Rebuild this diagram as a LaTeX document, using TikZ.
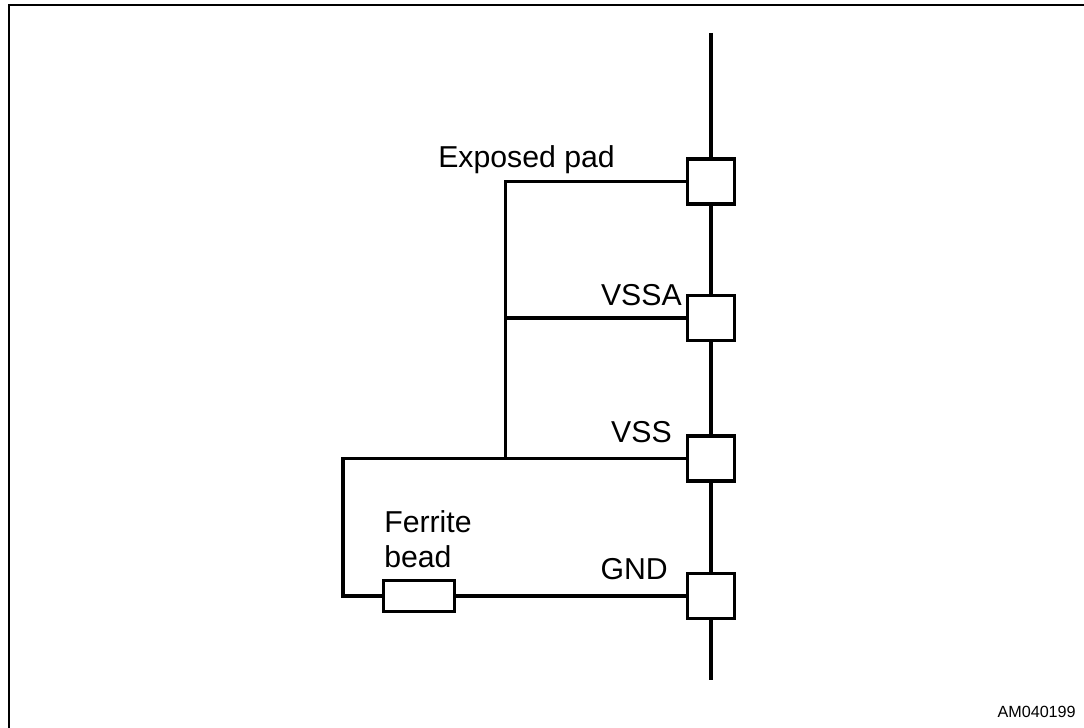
\documentclass[tikz,border=0pt]{standalone}
\usepackage{fontspec}
\setmainfont{Liberation Sans}
\usepackage{tikz}

\tikzset{
  pad/.style={draw, line width=2.3pt, fill=white, minimum width=1.16cm, minimum height=1.13cm, inner sep=0pt},
  bead/.style={draw, line width=2.3pt, fill=white, minimum width=1.78cm, minimum height=0.78cm, inner sep=0pt},
  wire/.style={line width=2.3pt},
  lbl/.style={font=\fontsize{21.5}{26}\selectfont, inner sep=0pt}
}

\begin{document}
\begin{tikzpicture}[x=0.025cm, y=-0.025cm]

\useasboundingbox (0,0) rectangle (1084,728);

% Outer frame
\draw[line width=1.5pt] (9,740) -- (9,5) -- (1100,5);

% Free ends of the vertical line
\coordinate (top) at (711,33);
\coordinate (bottom) at (711,680);

% Pads on the vertical line
\node[pad] (padE) at (711,181.5) {};
\node[pad] (padA) at (711,318) {};
\node[pad] (padS) at (711,458.5) {};
\node[pad] (padG) at (711,596) {};

% Ferrite bead
\node[bead] (ferrite) at (419,596) {};

% Junctions
\coordinate (jE) at (505.5,181.5);
\coordinate (jA) at (505.5,318);
\coordinate (jS) at (505.5,458.5);
\coordinate (jL) at (343,458.5);
\coordinate (jB) at (343,596);

% Vertical line through the pads
\draw[wire] (top) -- (padE);
\draw[wire] (padE) -- (padA);
\draw[wire] (padA) -- (padS);
\draw[wire] (padS) -- (padG);
\draw[wire] (padG) -- (bottom);

% Ground connections
\draw[wire] (padE) -- (jE);
\draw[wire] (padA) -- (jA);
\draw[wire] (padS) -- (jS);
\draw[wire, line cap=rect] (jE) -- (jS);
\draw[wire, line join=miter] (jS) -- (jL) -- (jB) -- (ferrite);
\draw[wire] (ferrite) -- (padG);

% Labels
\node[lbl, anchor=base west] (lblE) at (438,168) {Exposed pad};
\node[lbl, anchor=base east] (lblA) at (682,305) {VSSA};
\node[lbl, anchor=base east] (lblS) at (672,442) {VSS};
\node[lbl, anchor=base east] (lblG) at (668,579) {GND};
\node[lbl, anchor=base west] (lblF) at (384,532) {Ferrite};
\node[lbl, anchor=base west] (lblB) at (384,567) {bead};
\node[anchor=base east, font=\fontsize{11.5}{14}\selectfont, inner sep=0pt] (lblAM) at (1076,717) {AM040199};

\end{tikzpicture}
\end{document}
